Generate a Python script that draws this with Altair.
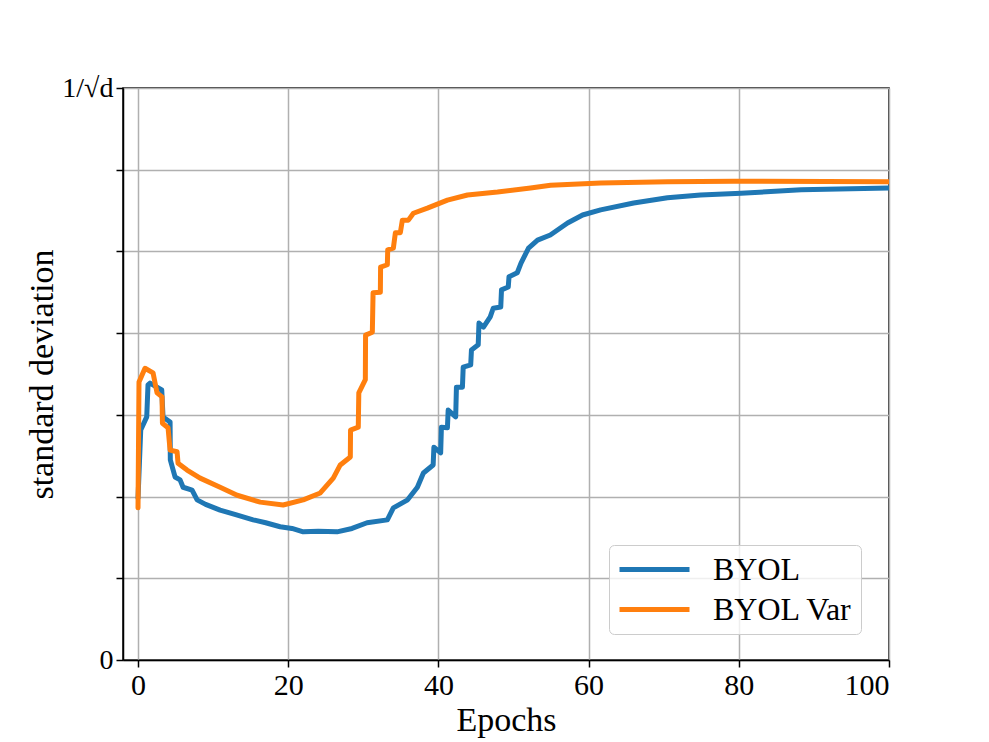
import altair as alt
import pandas as pd

# ---- data (std in units of 1/sqrt(d)) ----
byol_epochs = [0.0, 0.36, 1.16, 1.33, 1.6, 3.16, 3.33, 4.27, 4.3, 4.93, 5.6, 6.0, 7.2, 7.87,
               9.0, 10.93, 13.0, 15.33, 17.0, 18.93, 20.5, 22.0, 24.0, 26.5, 28.5, 30.5, 33.2,
               34.0, 35.9, 37.2, 38.0, 39.3,
               39.4, 40.3, 40.4, 41.2, 41.3, 42.3, 42.4, 43.2, 43.3, 44.3, 44.4, 45.3, 45.4,
               46.0, 46.9, 47.3, 48.3, 48.4, 49.3, 49.4, 50.5, 51.0, 52.0, 53.2, 54.9, 57.2,
               59.2, 61.6, 66.0, 70.5, 74.9, 80.3, 88.3, 100.0]
byol_std = [0.283, 0.402, 0.425, 0.481, 0.484, 0.472, 0.425, 0.416, 0.350, 0.320, 0.315, 0.302,
            0.297, 0.280, 0.272, 0.262, 0.254, 0.245, 0.240, 0.233, 0.230, 0.224, 0.225, 0.224,
            0.230, 0.240, 0.245, 0.266, 0.280, 0.302,
            0.327, 0.341, 0.372, 0.362, 0.407, 0.406, 0.437, 0.425, 0.477, 0.477, 0.512, 0.516,
            0.542, 0.551, 0.589, 0.582, 0.600, 0.615, 0.617, 0.647, 0.652, 0.670, 0.677, 0.694,
            0.720, 0.734, 0.743, 0.764, 0.778, 0.787, 0.799, 0.808, 0.813, 0.816, 0.822, 0.825]

var_epochs = [0.0, 0.13, 0.93, 2.0, 2.53, 3.2, 3.25, 4.0, 4.27, 5.2, 5.33, 6.53, 8.27, 10.93,
              13.2, 16.27, 19.33, 22.0, 24.27, 26.0, 26.93, 28.27, 28.3, 29.33, 29.4, 30.27,
              30.3, 31.2, 31.3, 32.27, 32.3, 33.2, 33.25, 34.0, 34.27, 34.93, 35.2, 36.0, 36.67,
              38.53, 41.2, 43.87, 47.87, 52.27, 54.93, 61.6, 70.5, 79.3, 100.0]
var_std = [0.266, 0.486, 0.510, 0.502, 0.467, 0.460, 0.414, 0.406, 0.367, 0.364, 0.344, 0.332,
           0.318, 0.302, 0.288, 0.276, 0.271, 0.280, 0.292, 0.318, 0.341, 0.355, 0.402, 0.407,
           0.467, 0.490, 0.568, 0.573, 0.642, 0.643, 0.687, 0.691, 0.717, 0.720, 0.747, 0.747,
           0.769, 0.769, 0.781, 0.790, 0.804, 0.813, 0.818, 0.825, 0.830, 0.834, 0.836, 0.837,
           0.836]

series_names = ["BYOL", "BYOL Var"]
series_colors = ["#1f77b4", "#ff7f0e"]
x_tick_values = [0, 20, 40, 60, 80, 100]
y_tick_values = [0, 1 / 7, 2 / 7, 3 / 7, 4 / 7, 5 / 7, 6 / 7, 1]

rows = []
for i, (e, s) in enumerate(zip(byol_epochs, byol_std)):
    rows.append({"epoch": e, "std": s, "method": series_names[0], "idx": i})
for i, (e, s) in enumerate(zip(var_epochs, var_std)):
    rows.append({"epoch": e, "std": s, "method": series_names[1], "idx": i})
df = pd.DataFrame(rows)

FONT = "Liberation Serif"

chart = alt.Chart(df).mark_line(
    strokeWidth=5, strokeCap="round", strokeJoin="round", clip=True
).encode(
    x=alt.X("epoch:Q",
            scale=alt.Scale(domain=[-2, 100], nice=False, zero=False),
            axis=alt.Axis(values=x_tick_values, title="Epochs", format="d",
                          titleY=60, titleBaseline="middle")),
    y=alt.Y("std:Q",
            scale=alt.Scale(domain=[0, 1], nice=False),
            axis=alt.Axis(values=y_tick_values, title="standard deviation",
                          labelExpr="datum.value == 0 ? '0' : (datum.value > 0.99 ? '1/√d' : '')",
                          titleX=-81, titleY=286, titleAngle=-90,
                          titleAlign="center", titleBaseline="middle")),
    color=alt.Color("method:N",
                    scale=alt.Scale(domain=series_names, range=series_colors),
                    legend=alt.Legend(
                        title=None, orient="none", legendX=486, legendY=457,
                        symbolType="M-1,0L4,0", symbolSize=784, symbolStrokeWidth=5,
                        labelOffset=63, labelFontSize=32, labelFont=FONT,
                        padding=8, rowPadding=7,
                        fillColor="rgba(255,255,255,0.8)", strokeColor="#cccccc",
                        cornerRadius=5)),
    order=alt.Order("idx:Q"),
).properties(
    width=766, height=572,
    autosize=alt.AutoSizeParams(type="none"),
    padding={"left": 115, "top": 80, "right": 60, "bottom": 80},
).configure_view(
    stroke="black", strokeWidth=1.5
).configure_axis(
    grid=True, gridColor="#b0b0b0", gridWidth=1.5,
    domainColor="black", domainWidth=1.5,
    tickColor="black", tickWidth=1.5, tickSize=7,
    labelFont=FONT, labelFontSize=30, labelColor="black", labelPadding=3,
    titleFont=FONT, titleFontSize=34, titleColor="black", titleFontWeight="normal",
).configure_axisY(
    labelFontSize=28
)

chart.save("out.html", embed_options={"renderer": "svg", "actions": False})
